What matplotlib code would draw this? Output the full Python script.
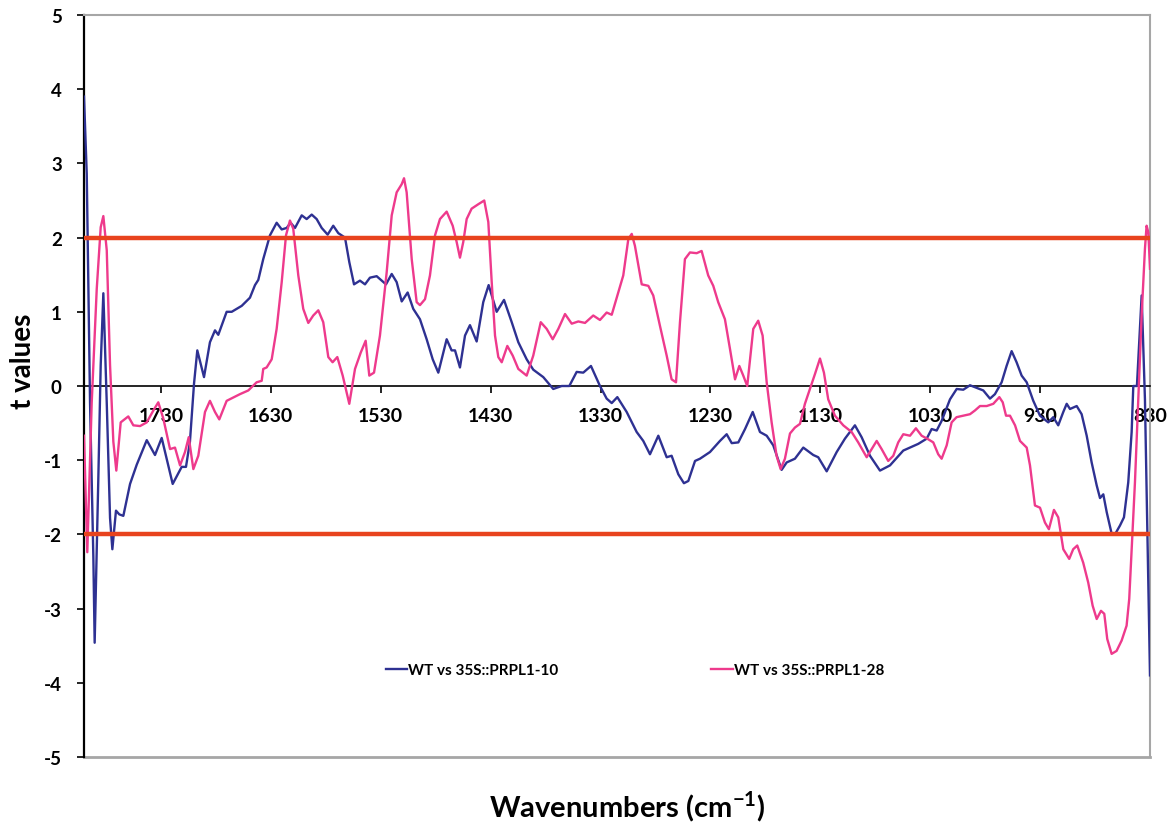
import matplotlib
matplotlib.use('Agg')
import matplotlib.pyplot as plt
import numpy as np

plt.rcParams['font.family'] = ['Lato', 'DejaVu Sans']
plt.rcParams['font.weight'] = 'bold'
plt.rcParams['mathtext.fontset'] = 'custom'
plt.rcParams['mathtext.rm'] = 'Lato'
plt.rcParams['mathtext.bf'] = 'Lato:bold'

# WT vs 35S::PRPL1-10
wn_10 = [1800, 1797.5, 1794.5, 1791.5, 1790.3, 1787.0, 1784.8, 1782.4, 1779.3, 1776.3,
         1774.2, 1770.9, 1767.9, 1764.2, 1758.1, 1752.0, 1742.9, 1735.4, 1729.3, 1719.3,
         1711.1, 1707.2, 1703.6, 1699.9, 1696.9, 1690.8, 1685.4, 1680.8, 1677.8, 1670.2,
         1665.6, 1656.5, 1649.0, 1644.4, 1641.4, 1636.9, 1630.8, 1624.7, 1620.1, 1615.6,
         1612.0, 1608.0, 1601.9, 1597.4, 1592.8, 1588.3, 1583.7, 1578.3, 1573.2, 1568.6,
         1562.5, 1558.6, 1554.3, 1548.9, 1544.3, 1539.8, 1533.7, 1525.2, 1520.0, 1515.5,
         1510.9, 1505.5, 1500.4, 1494.3, 1488.2, 1482.7, 1477.6, 1470.0, 1465.5, 1462.4,
         1457.9, 1453.3, 1448.8, 1442.7, 1436.7, 1431.8, 1424.5, 1417.8, 1410.8, 1404.8,
         1397.2, 1391.2, 1382.1, 1373.0, 1365.3, 1358.4, 1351.7, 1345.7, 1338.7, 1330.5,
         1324.4, 1319.8, 1314.7, 1306.2, 1297.1, 1291.1, 1285.0, 1277.4, 1269.8, 1265.3,
         1259.2, 1254.1, 1250.1, 1244.0, 1239.5, 1230.4, 1221.3, 1215.2, 1210.6, 1204.6,
         1198.5, 1191.5, 1184.9, 1178.8, 1172.8, 1165.2, 1160.6, 1153.1, 1145.5, 1136.4,
         1131.9, 1124.2, 1115.1, 1107.6, 1098.5, 1092.4, 1084.8, 1075.7, 1066.6, 1054.5,
         1048.4, 1040.9, 1033.2, 1028.7, 1024.1, 1019.6, 1012.0, 1005.9, 999.9, 993.8,
         981.7, 975.6, 971.1, 965.0, 960.5, 955.9, 951.4, 946.8, 942.2, 936.2,
         930.1, 922.6, 918.0, 913.5, 908.9, 905.8, 902.8, 896.7, 892.2, 887.6,
         883.1, 878.5, 875.5, 872.5, 869.4, 864.9, 861.9, 857.3, 853.7, 849.8,
         846.7, 845.2, 841.9, 837.6, 834.6, 830.0]
t_10 = [3.90, 2.86, -0.23, -2.30, -3.46, -1.27, 0.28, 1.25, -0.23, -1.78,
        -2.20, -1.68, -1.73, -1.75, -1.32, -1.06, -0.73, -0.93, -0.70, -1.32,
        -1.09, -1.09, -0.75, 0.03, 0.48, 0.12, 0.59, 0.75, 0.69, 1.00,
        1.00, 1.08, 1.19, 1.36, 1.43, 1.71, 2.03, 2.20, 2.11, 2.13,
        2.20, 2.13, 2.30, 2.25, 2.31, 2.25, 2.13, 2.04, 2.16, 2.06,
        2.00, 1.67, 1.37, 1.42, 1.37, 1.46, 1.48, 1.37, 1.51, 1.40,
        1.14, 1.26, 1.04, 0.90, 0.63, 0.36, 0.18, 0.63, 0.48, 0.48,
        0.25, 0.68, 0.82, 0.60, 1.13, 1.36, 1.00, 1.16, 0.86, 0.59,
        0.36, 0.22, 0.12, -0.04, 0.00, 0.00, 0.19, 0.18, 0.27, 0.00,
        -0.17, -0.23, -0.15, -0.35, -0.62, -0.74, -0.92, -0.67, -0.96, -0.94,
        -1.19, -1.31, -1.28, -1.01, -0.98, -0.89, -0.74, -0.65, -0.77, -0.76,
        -0.58, -0.35, -0.62, -0.67, -0.80, -1.13, -1.03, -0.98, -0.83, -0.93,
        -0.96, -1.15, -0.89, -0.71, -0.53, -0.69, -0.94, -1.14, -1.07, -0.87,
        -0.83, -0.78, -0.71, -0.58, -0.60, -0.47, -0.18, -0.04, -0.05, 0.01,
        -0.06, -0.17, -0.11, 0.05, 0.27, 0.47, 0.32, 0.14, 0.05, -0.20,
        -0.40, -0.49, -0.42, -0.53, -0.35, -0.24, -0.31, -0.27, -0.38, -0.67,
        -1.03, -1.34, -1.51, -1.46, -1.70, -1.99, -2.00, -1.88, -1.77, -1.30,
        -0.62, 0.00, 0.00, 1.22, -0.18, -3.90]

# WT vs 35S::PRPL1-28
wn_28 = [1800, 1797.0, 1793.0, 1788.4, 1784.8, 1782.4, 1779.3, 1776.3, 1773.3, 1770.6,
         1766.6, 1759.7, 1755.1, 1749.0, 1742.9, 1736.9, 1732.4, 1727.8, 1721.7, 1717.2,
         1712.6, 1708.1, 1704.7, 1700.5, 1696.0, 1689.9, 1685.4, 1680.8, 1676.9, 1670.2,
         1658.1, 1650.5, 1642.9, 1638.3, 1636.9, 1633.8, 1629.2, 1624.7, 1620.1, 1616.2,
         1612.6, 1609.6, 1605.0, 1600.5, 1595.9, 1591.4, 1586.8, 1582.3, 1577.7, 1573.8,
         1569.5, 1564.6, 1558.6, 1553.4, 1548.2, 1543.7, 1540.4, 1536.1, 1530.7, 1524.6,
         1520.0, 1515.5, 1510.9, 1508.8, 1506.4, 1501.8, 1497.3, 1494.3, 1489.7, 1485.2,
         1480.6, 1476.1, 1470.0, 1464.5, 1460.9, 1457.9, 1454.9, 1451.8, 1447.3, 1441.2,
         1435.8, 1432.1, 1429.0, 1426.0, 1423.0, 1419.9, 1414.8, 1409.9, 1404.8, 1397.2,
         1391.2, 1384.4, 1379.0, 1373.5, 1368.4, 1362.3, 1356.2, 1350.2, 1344.1, 1336.6,
         1330.5, 1324.4, 1319.8, 1313.9, 1309.3, 1304.7, 1301.6, 1298.7, 1292.5, 1286.5,
         1282.0, 1275.9, 1269.8, 1265.3, 1261.3, 1257.7, 1253.2, 1248.6, 1242.5, 1238.0,
         1232.0, 1227.4, 1222.9, 1216.8, 1212.2, 1207.6, 1203.7, 1200.1, 1196.5, 1191.0,
         1186.5, 1182.5, 1178.8, 1174.3, 1169.8, 1166.1, 1162.2, 1157.6, 1153.1, 1148.5,
         1144.0, 1139.4, 1134.9, 1130.3, 1126.7, 1122.8, 1116.7, 1109.1, 1101.5, 1095.5,
         1087.8, 1083.3, 1078.7, 1074.2, 1068.2, 1063.6, 1059.1, 1054.5, 1048.4, 1043.0,
         1037.8, 1032.7, 1027.2, 1022.7, 1019.6, 1015.0, 1010.5, 1006.0, 999.9, 993.8,
         989.3, 984.7, 978.6, 972.6, 967.1, 964.0, 961.0, 957.4, 952.8, 948.3,
         942.2, 939.2, 934.7, 930.1, 925.6, 922.0, 917.4, 913.5, 908.9, 903.5,
         899.9, 896.2, 890.8, 886.2, 882.2, 878.5, 874.6, 871.6, 868.9, 864.9,
         860.4, 855.8, 851.3, 848.9, 846.7, 843.7, 840.7, 837.6, 834.6, 833.1,
         831.5, 830.0]
t_28 = [-0.67, -2.24, -0.23, 1.31, 2.14, 2.29, 1.83, 0.28, -0.75, -1.14,
        -0.49, -0.41, -0.53, -0.54, -0.49, -0.33, -0.22, -0.44, -0.85, -0.83,
        -1.07, -0.89, -0.69, -1.12, -0.94, -0.35, -0.20, -0.35, -0.45, -0.20,
        -0.11, -0.06, 0.05, 0.07, 0.23, 0.25, 0.36, 0.77, 1.40, 2.03,
        2.23, 2.12, 1.49, 1.04, 0.85, 0.95, 1.02, 0.86, 0.39, 0.32,
        0.39, 0.14, -0.24, 0.23, 0.45, 0.61, 0.14, 0.18, 0.68, 1.53,
        2.30, 2.61, 2.72, 2.80, 2.61, 1.71, 1.13, 1.09, 1.17, 1.49,
        2.03, 2.25, 2.35, 2.16, 1.94, 1.73, 1.94, 2.25, 2.39, 2.45,
        2.50, 2.21, 1.40, 0.68, 0.39, 0.32, 0.54, 0.41, 0.23, 0.14,
        0.41, 0.86, 0.77, 0.63, 0.77, 0.97, 0.84, 0.87, 0.85, 0.95,
        0.89, 0.99, 0.96, 1.26, 1.49, 1.98, 2.05, 1.89, 1.37, 1.35,
        1.22, 0.81, 0.41, 0.09, 0.05, 0.86, 1.71, 1.80, 1.79, 1.82,
        1.49, 1.35, 1.13, 0.90, 0.50, 0.09, 0.27, 0.14, 0.00, 0.77,
        0.88, 0.68, 0.05, -0.49, -0.94, -1.12, -0.98, -0.64, -0.56, -0.51,
        -0.24, -0.04, 0.16, 0.37, 0.18, -0.18, -0.40, -0.53, -0.62, -0.76,
        -0.96, -0.85, -0.74, -0.85, -1.01, -0.94, -0.76, -0.65, -0.67, -0.57,
        -0.67, -0.71, -0.76, -0.92, -0.98, -0.80, -0.49, -0.42, -0.40, -0.38,
        -0.33, -0.27, -0.27, -0.24, -0.15, -0.22, -0.40, -0.40, -0.53, -0.74,
        -0.83, -1.07, -1.61, -1.64, -1.84, -1.93, -1.67, -1.77, -2.20, -2.33,
        -2.20, -2.15, -2.38, -2.65, -2.96, -3.14, -3.03, -3.07, -3.41, -3.61,
        -3.57, -3.43, -3.23, -2.87, -2.20, -1.30, -0.18, 0.95, 1.85, 2.16,
        2.07, 1.58]

xticks = [1730, 1630, 1530, 1430, 1330, 1230, 1130, 1030, 930, 830]
yticks = [-5, -4, -3, -2, -1, 0, 1, 2, 3, 4, 5]
thresholds = [2, -2]

fig = plt.figure(figsize=(11.71, 8.29), dpi=100)
ax = fig.add_axes([84 / 1171, 1 - 758 / 829, (1150 - 84) / 1171, (758 - 16) / 829])

ax.plot(wn_10, t_10, color='#2E3192', lw=1.7, solid_joinstyle='round',
        label='WT vs 35S::PRPL1-10', zorder=3)
ax.plot(wn_28, t_28, color='#EE3A8C', lw=1.7, solid_joinstyle='round',
        label='WT vs 35S::PRPL1-28', zorder=3)
for th in thresholds:
    ax.axhline(th, color='#E8431E', lw=3.2, zorder=4)

ax.set_xlim(1800, 830)
ax.set_ylim(-5, 5)

# x axis sits on the zero line, grey frame round the rest
ax.spines['bottom'].set_position(('data', 0))
ax.spines['bottom'].set_linewidth(1.2)
ax.spines['bottom'].set_color('black')
ax.spines['left'].set_linewidth(1.6)
ax.spines['left'].set_color('black')
for s in ['top', 'right']:
    ax.spines[s].set_color('#A6A6A6')
    ax.spines[s].set_linewidth(1.5)
ax.axhline(-5, color='#A6A6A6', lw=2, clip_on=False, zorder=1)

ax.set_xticks(xticks)
ax.set_xticklabels([str(v) for v in xticks])
ax.set_yticks(yticks)
ax.set_yticklabels([str(v) for v in yticks])
ax.tick_params(axis='x', direction='out', length=5, width=1.2, labelsize=14, pad=10)
ax.tick_params(axis='y', direction='out', length=5, width=1.2, labelsize=13.5, pad=11)
for lab in ax.get_xticklabels() + ax.get_yticklabels():
    lab.set_fontweight('bold')

ax.text(-0.057, 0.534, 't values', transform=ax.transAxes, rotation=90,
        ha='center', va='center', fontsize=20, fontweight='bold')
ax.text(0.51, -0.066, r'Wavenumbers (cm$^{\mathbf{-1}}$)', transform=ax.transAxes,
        ha='center', va='center', fontsize=21, fontweight='bold')

leg = ax.legend(loc='center', bbox_to_anchor=(0.517, 0.117), ncol=2, frameon=False,
                handlelength=1.4, handletextpad=0.1, columnspacing=10.0,
                prop={'size': 11, 'weight': 'bold'})

plt.savefig('out.png', dpi=100)
